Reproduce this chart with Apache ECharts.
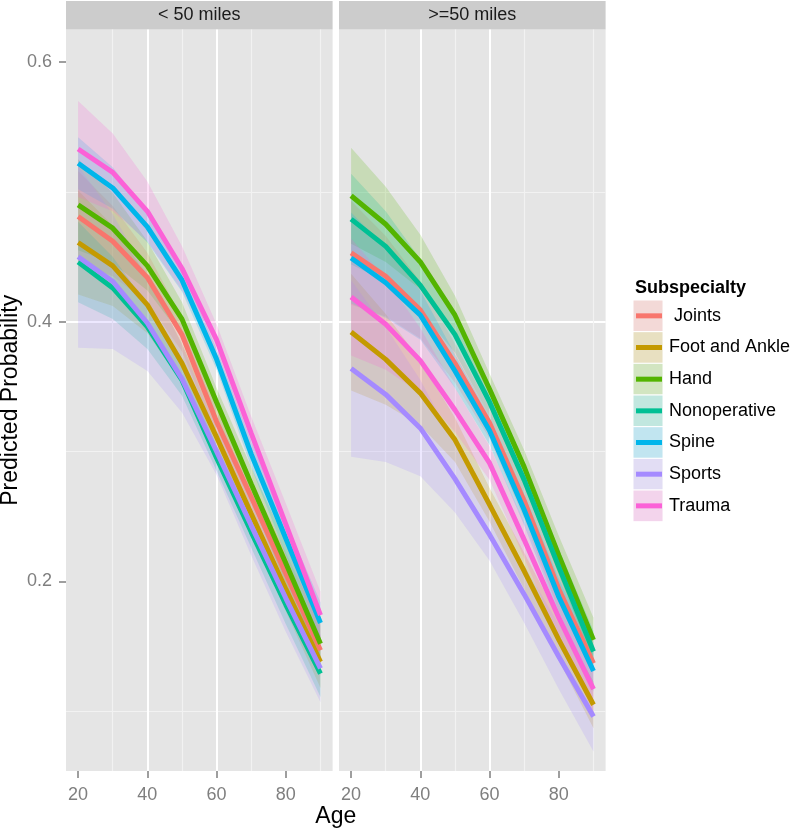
<!DOCTYPE html>
<html>
<head>
<meta charset="utf-8">
<script src="https://cdn.jsdelivr.net/npm/echarts@6/dist/echarts.min.js"></script>
<style>
  html, body { margin: 0; padding: 0; background: #fff; }
  #chart { width: 797px; height: 831px; }
</style>
</head>
<body>
<div id="chart"></div>
<script>
// ages at which predictions were made
const ages = [20, 30, 40, 50, 60, 70, 80, 90];
const subspecialties = [' Joints', 'Foot and Ankle', 'Hand', 'Nonoperative', 'Spine', 'Sports', 'Trauma'];
const panels = ['< 50 miles', '>=50 miles'];
const yTicks = [0.2, 0.4, 0.6];
const xTicks = [20, 40, 60, 80];

// < 50 miles : predicted probability, lower and upper band (rows follow subspecialties)
const nearMid = [
  [0.481, 0.462, 0.434, 0.390, 0.323, 0.265, 0.206, 0.147],
  [0.461, 0.443, 0.413, 0.368, 0.311, 0.252, 0.194, 0.138],
  [0.490, 0.472, 0.443, 0.402, 0.338, 0.275, 0.214, 0.152],
  [0.446, 0.426, 0.396, 0.355, 0.295, 0.238, 0.182, 0.129],
  [0.522, 0.503, 0.473, 0.432, 0.371, 0.298, 0.233, 0.168],
  [0.450, 0.431, 0.399, 0.356, 0.300, 0.243, 0.187, 0.133],
  [0.533, 0.515, 0.485, 0.441, 0.386, 0.314, 0.244, 0.174]
];
const nearLo = [
  [0.446, 0.435, 0.415, 0.377, 0.312, 0.252, 0.190, 0.128],
  [0.421, 0.412, 0.391, 0.353, 0.299, 0.238, 0.177, 0.118],
  [0.455, 0.445, 0.424, 0.389, 0.327, 0.262, 0.198, 0.133],
  [0.415, 0.402, 0.379, 0.343, 0.285, 0.226, 0.167, 0.111],
  [0.502, 0.487, 0.461, 0.423, 0.363, 0.288, 0.220, 0.152],
  [0.380, 0.379, 0.362, 0.330, 0.282, 0.220, 0.161, 0.107],
  [0.496, 0.485, 0.462, 0.424, 0.374, 0.301, 0.228, 0.156]
];
const nearHi = [
  [0.516, 0.489, 0.453, 0.403, 0.334, 0.278, 0.222, 0.166],
  [0.501, 0.474, 0.435, 0.383, 0.323, 0.266, 0.211, 0.158],
  [0.525, 0.499, 0.462, 0.415, 0.349, 0.288, 0.230, 0.171],
  [0.477, 0.450, 0.413, 0.367, 0.305, 0.250, 0.197, 0.147],
  [0.542, 0.519, 0.485, 0.441, 0.379, 0.308, 0.246, 0.184],
  [0.520, 0.483, 0.436, 0.382, 0.318, 0.266, 0.213, 0.159],
  [0.570, 0.545, 0.508, 0.458, 0.398, 0.327, 0.260, 0.192]
];

// >=50 miles
const farMid = [
  [0.453, 0.435, 0.409, 0.368, 0.322, 0.262, 0.194, 0.137],
  [0.392, 0.371, 0.345, 0.309, 0.259, 0.208, 0.155, 0.105],
  [0.497, 0.475, 0.446, 0.405, 0.348, 0.288, 0.220, 0.155],
  [0.479, 0.458, 0.428, 0.390, 0.338, 0.278, 0.211, 0.146],
  [0.449, 0.430, 0.405, 0.362, 0.316, 0.255, 0.188, 0.131],
  [0.364, 0.344, 0.318, 0.279, 0.236, 0.190, 0.142, 0.096],
  [0.419, 0.398, 0.370, 0.332, 0.291, 0.232, 0.172, 0.117]
];
const farLo = [
  [0.413, 0.404, 0.387, 0.353, 0.310, 0.248, 0.177, 0.117],
  [0.347, 0.336, 0.320, 0.292, 0.246, 0.194, 0.139, 0.087],
  [0.460, 0.446, 0.425, 0.390, 0.336, 0.275, 0.205, 0.138],
  [0.444, 0.431, 0.408, 0.376, 0.327, 0.266, 0.197, 0.130],
  [0.414, 0.403, 0.386, 0.349, 0.305, 0.243, 0.174, 0.115],
  [0.296, 0.292, 0.281, 0.253, 0.216, 0.168, 0.117, 0.069],
  [0.374, 0.363, 0.345, 0.315, 0.278, 0.218, 0.156, 0.099]
];
const farHi = [
  [0.493, 0.466, 0.431, 0.383, 0.334, 0.276, 0.211, 0.157],
  [0.437, 0.406, 0.370, 0.326, 0.272, 0.222, 0.171, 0.123],
  [0.534, 0.504, 0.467, 0.420, 0.360, 0.301, 0.235, 0.172],
  [0.514, 0.485, 0.448, 0.404, 0.349, 0.290, 0.225, 0.162],
  [0.484, 0.457, 0.424, 0.375, 0.327, 0.267, 0.202, 0.147],
  [0.432, 0.396, 0.355, 0.305, 0.256, 0.212, 0.167, 0.123],
  [0.464, 0.433, 0.395, 0.349, 0.304, 0.246, 0.188, 0.135]
];

const palette = ['#F8766D', '#C49A00', '#53B400', '#00C094', '#00B6EB', '#A58AFF', '#FB61D7'];
const font = 'Liberation Sans, Arial, Helvetica, sans-serif';

const panelLeft = [66, 339];
const panelTop = 29.5, panelW = 266.6, panelH = 741.5;

function tint(hex, a) {
  let r = parseInt(hex.slice(1, 3), 16), g = parseInt(hex.slice(3, 5), 16), b = parseInt(hex.slice(5, 7), 16);
  return 'rgba(' + r + ',' + g + ',' + b + ',' + a + ')';
}

function ribbon(gi, lo, hi, color) {
  return {
    type: 'custom', xAxisIndex: gi, yAxisIndex: gi, clip: true, silent: true,
    data: [[ages[0], lo[0]]],
    renderItem: (params, api) => {
      let top = ages.map((a, k) => api.coord([a, hi[k]]));
      let bot = ages.map((a, k) => api.coord([a, lo[k]])).reverse();
      return { type: 'polygon', shape: { points: top.concat(bot) }, style: { fill: tint(color, 0.2) } };
    }
  };
}

function line(gi, mid, color, name) {
  return {
    type: 'line', name: name, xAxisIndex: gi, yAxisIndex: gi, z: 3, silent: true,
    data: ages.map((a, k) => [a, mid[k]]),
    symbol: 'none', showSymbol: false,
    lineStyle: { width: 5, color: color }, itemStyle: { color: color }
  };
}

let series = [];
[[nearLo, nearHi], [farLo, farHi]].forEach((p, gi) => {
  subspecialties.forEach((s, i) => series.push(ribbon(gi, p[0][i], p[1][i], palette[i])));
});
[nearMid, farMid].forEach((m, gi) => {
  subspecialties.forEach((s, i) => series.push(line(gi, m[i], palette[i], s)));
});

const tickStyle = { length: 7, lineStyle: { color: '#7f7f7f', width: 1.5 } };

let xAxis = panels.map((p, gi) => ({
  type: 'value', gridIndex: gi, min: 16.5, max: 93.5, splitNumber: 4,
  axisLine: { show: false },
  axisTick: Object.assign({ show: true, customValues: xTicks }, tickStyle),
  axisLabel: { customValues: xTicks, color: '#7f7f7f', fontSize: 18, fontFamily: font, margin: 15 },
  splitLine: { show: true, showMinLine: false, showMaxLine: false, lineStyle: { color: '#ffffff', width: 2 } },
  minorTick: { show: false, splitNumber: 2 },
  minorSplitLine: { show: true, lineStyle: { color: '#f2f2f2', width: 1.2 } }
}));

let yAxis = panels.map((p, gi) => ({
  type: 'value', gridIndex: gi, min: 0.054, max: 0.625, splitNumber: 3,
  axisLine: { show: false },
  axisTick: Object.assign({ show: gi === 0, customValues: yTicks }, tickStyle),
  axisLabel: {
    show: gi === 0, customValues: yTicks, color: '#7f7f7f', fontSize: 18, fontFamily: font, margin: 14,
    formatter: v => v.toFixed(1)
  },
  splitLine: { show: true, showMinLine: false, showMaxLine: false, lineStyle: { color: '#ffffff', width: 2 } },
  minorTick: { show: false, splitNumber: 2 },
  minorSplitLine: { show: true, lineStyle: { color: '#f2f2f2', width: 1.2 } },
  name: gi === 0 ? 'Predicted Probability' : '',
  nameLocation: 'middle', nameGap: 44, nameRotate: 90,
  nameTextStyle: { color: '#000', fontSize: 23, fontFamily: font }
}));

// facet strips, axis title and legend
let graphic = [];
panels.forEach((p, gi) => {
  graphic.push({ type: 'rect', shape: { x: panelLeft[gi], y: 1, width: panelW, height: 28.5 }, style: { fill: '#cccccc' } });
  graphic.push({
    type: 'text', x: panelLeft[gi] + panelW / 2, y: 15.5,
    style: { text: p, fill: '#1a1a1a', font: '18px ' + font, textAlign: 'center', textVerticalAlign: 'middle' }
  });
});
graphic.push({
  type: 'text', x: (panelLeft[0] + panelLeft[1] + panelW) / 2, y: 817,
  style: { text: 'Age', fill: '#000', font: '23px ' + font, textAlign: 'center', textVerticalAlign: 'middle' }
});
graphic.push({
  type: 'text', x: 635, y: 288,
  style: { text: 'Subspecialty', fill: '#000', font: 'bold 18px ' + font, textVerticalAlign: 'middle' }
});
const keyH = 31.67;
subspecialties.forEach((s, i) => {
  let y0 = 300 + keyH * i;
  graphic.push({ type: 'rect', shape: { x: 633, y: y0, width: 30, height: keyH }, style: { fill: '#f2f2f2', stroke: '#ffffff', lineWidth: 1 } });
  graphic.push({ type: 'rect', shape: { x: 633.5, y: y0 + 0.5, width: 29, height: keyH - 1 }, style: { fill: tint(palette[i], 0.2) } });
  graphic.push({ type: 'line', shape: { x1: 636, y1: y0 + keyH / 2, x2: 662, y2: y0 + keyH / 2 }, style: { stroke: palette[i], lineWidth: 5 } });
  graphic.push({
    type: 'text', x: 669, y: y0 + keyH / 2,
    style: { text: s, fill: '#000', font: '18px ' + font, textVerticalAlign: 'middle' }
  });
});

const chart = echarts.init(document.getElementById('chart'));
chart.setOption({
  animation: false,
  backgroundColor: '#ffffff',
  grid: panelLeft.map(l => ({
    left: l, top: panelTop, width: panelW, height: panelH,
    outerBoundsMode: 'none', containLabel: false,
    show: true, backgroundColor: '#e5e5e5', borderWidth: 0
  })),
  xAxis: xAxis,
  yAxis: yAxis,
  series: series,
  graphic: graphic
});
</script>
</body>
</html>
